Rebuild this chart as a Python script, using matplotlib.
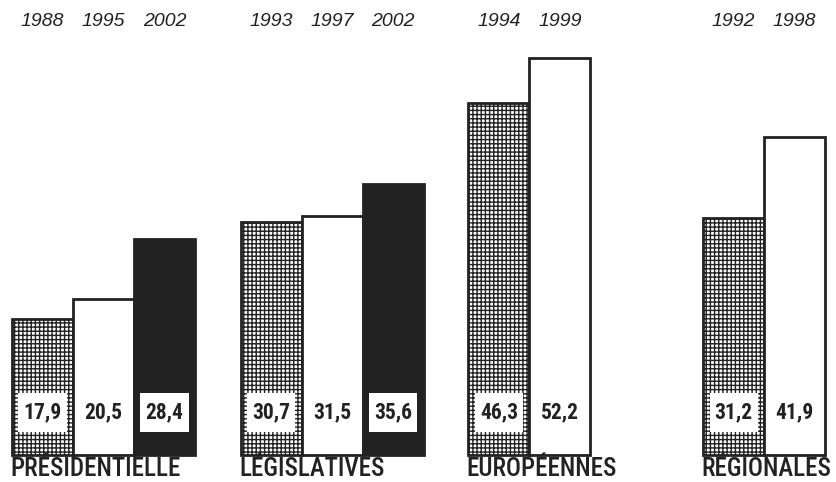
import matplotlib.pyplot as plt

# data
groups = ['PRÉSIDENTIELLE', 'LÉGISLATIVES', 'EUROPÉENNES', 'RÉGIONALES']
years = [['1988', '1995', '2002'], ['1993', '1997', '2002'], ['1994', '1999'], ['1992', '1998']]
values = [[17.9, 20.5, 28.4], [30.7, 31.5, 35.6], [46.3, 52.2], [31.2, 41.9]]

# layout (in bar widths)
group_starts = [0, 3.75, 7.48, 11.33]
styles = ['hatch', 'white', 'black']
ink = '#222222'

plt.rcParams['hatch.linewidth'] = 1.0
plt.rcParams['hatch.color'] = ink

fig = plt.figure(figsize=(8.36, 4.82), dpi=100)
ax = fig.add_axes([0, 0, 1, 1])
ax.set_xlim(-0.197, 13.508)
ax.set_ylim(-3.55, 59.87)
ax.axis('off')

box_bottom, box_top = 3.0, 8.2
for g, start in enumerate(group_starts):
    for i, (yr, v) in enumerate(zip(years[g], values[g])):
        x = start + i
        st = styles[i]
        if st == 'hatch':
            ax.bar(x, v, width=1, align='edge', facecolor='white', edgecolor=ink,
                   hatch='++++', linewidth=2, zorder=2)
        elif st == 'white':
            ax.bar(x, v, width=1, align='edge', facecolor='white', edgecolor=ink,
                   linewidth=2, zorder=2)
        else:
            ax.bar(x, v, width=1, align='edge', facecolor=ink, edgecolor=ink,
                   linewidth=2, zorder=2)
        if st != 'white':
            # white label box inside the bar
            ax.bar(x + 0.5, box_top - box_bottom, bottom=box_bottom, width=0.79,
                   facecolor='white', edgecolor='none', linewidth=0, zorder=3)
        ax.text(x + 0.5, (box_bottom + box_top) / 2, f'{v:.1f}'.replace('.', ','),
                ha='center', va='center', fontsize=15.5, fontweight='bold',
                family='Roboto Condensed', color=ink, zorder=4)
        ax.text(x + 0.5, 57.0, yr, ha='center', va='center', fontsize=14,
                style='italic', family='Liberation Sans', color=ink)
    ax.text(start - 0.03, -1.8, groups[g], ha='left', va='center', fontsize=18,
            fontweight='medium', family='Roboto Condensed', color=ink)

fig.savefig('out.png', dpi=100)
